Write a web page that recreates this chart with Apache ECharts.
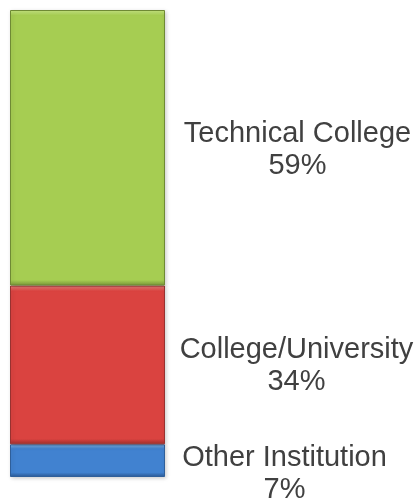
<!DOCTYPE html>
<html><head><meta charset="utf-8">
<script src="https://cdn.jsdelivr.net/npm/echarts@6/dist/echarts.min.js"></script>
<style>html,body{margin:0;padding:0;background:#fff}#c{width:419px;height:499px}</style>
</head><body><div id="c"></div>
<script>
const names = ['Other Institution', 'College/University', 'Technical College'];
const values = [7, 34, 59];
const category = ['Institution'];

const styles = [
  {light:'#86bdf2', mid:'#4182d0', dark:'#2b5a96', border:'#2f5f9a', bev:0.14, off:[197, 13]},
  {light:'#f58783', mid:'#da4340', dark:'#a2302e', border:'#983230', bev:0.035, off:[209, 1]},
  {light:'#c8e882', mid:'#a6cd52', dark:'#7a983a', border:'#6f8a34', bev:0.02, off:[210, 2]}
];

const chart = echarts.init(document.getElementById('c'), null, {renderer:'canvas'});
chart.setOption({
  animation:false,
  grid:{left:10, right:254, top:10, bottom:22},
  xAxis:{type:'category', data:category, show:false},
  yAxis:{type:'value', min:0, max:100, show:false},
  series: names.map((n,i)=>({
    name:n, type:'bar', stack:'s', barWidth:'100%',
    data:[values[i]],
    itemStyle:{
      borderColor:styles[i].border, borderWidth:1,
      shadowColor:'rgba(0,0,0,0.18)', shadowBlur:4, shadowOffsetX:1, shadowOffsetY:1,
      color:{type:'linear', x:0,y:0,x2:0,y2:1, colorStops:[
        {offset:0, color:styles[i].light},
        {offset:styles[i].bev, color:styles[i].mid},
        {offset:1-styles[i].bev, color:styles[i].mid},
        {offset:1, color:styles[i].dark}
      ]}
    },
    label:{
      show:true, position:'inside', offset:styles[i].off,
      formatter: p => n + '\n' + values[i] + '%',
      color:'#404040', fontFamily:'Liberation Sans, Arial, sans-serif',
      fontSize:29, lineHeight:32, align:'center'
    }
  }))
});
</script></body></html>
